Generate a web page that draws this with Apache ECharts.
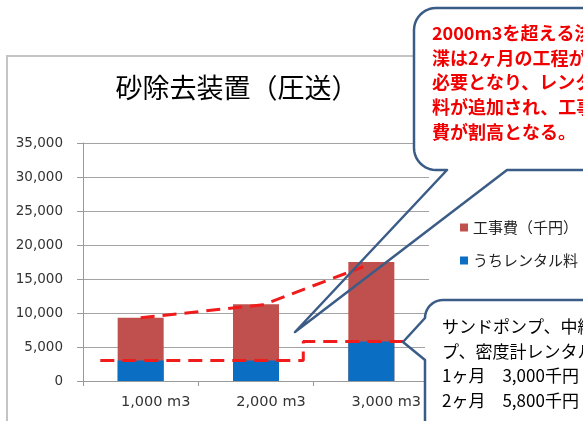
<!DOCTYPE html>
<html>
<head>
<meta charset="utf-8">
<script src="https://cdn.jsdelivr.net/npm/echarts@6/dist/echarts.min.js"></script>
<style>
  html, body { margin: 0; padding: 0; background: #fff; }
  #chart { width: 583px; height: 421px; }
</style>
</head>
<body>
<div id="chart"></div>
<script>
// Volumes and costs (thousand yen)
const categories = ['1,000 m3', '2,000 m3', '3,000 m3'];
const totalCost = [9300, 11300, 17500];   // 工事費（千円）
const rentalCost = [3000, 3000, 5800];    // うちレンタル料
const yMin = 0, yMax = 35000, yStep = 5000;

// Hand-drawn guide lines, in [category position, value]
const costTrend = [[0.5, 9300], [1.56, 11200], [2.43, 16800]];
const rentalStep = [[0.15, 3000], [1.91, 3000], [1.91, 5800], [2.78, 5800]];

const titleText = '砂除去装置（圧送）';
const noteTop = [
  '2000m3を超える浚',
  '渫は2ヶ月の工程が',
  '必要となり、レンタル',
  '料が追加され、工事',
  '費が割高となる。'
];
const fmt = v => v.toLocaleString('en-US');
const noteBottom = [
  'サンドポンプ、中継ポン',
  'プ、密度計レンタル料',
  '1ヶ月　' + fmt(rentalCost[0]) + '千円',
  '2ヶ月　' + fmt(rentalCost[2]) + '千円'
];

const JP = '"Noto Sans CJK JP", "Noto Sans", sans-serif';
const NUM = '"DejaVu Sans", sans-serif';
const calloutBorder = '#3b5c86';

const chart = echarts.init(document.getElementById('chart'), null, { renderer: 'canvas' });

// sample a circular arc (angles in degrees, screen coordinates)
function arc(cx, cy, r, a0, a1, n) {
  const pts = [];
  for (let i = 0; i <= n; i++) {
    const a = (a0 + (a1 - a0) * i / n) * Math.PI / 180;
    pts.push([cx + r * Math.cos(a), cy + r * Math.sin(a)]);
  }
  return pts;
}

function textLines(lines, x, y0, lh, font, color) {
  return lines.map((t, i) => ({
    type: 'text', z: 110, silent: true,
    style: { text: t, x: x, y: y0 + i * lh, font: font, fill: color, verticalAlign: 'middle', align: 'left' }
  }));
}

// callout outlines with their pointers
const topOutline = [[436, 8], [660, 8], [660, 170], [507, 170], [295, 332], [447, 170]]
  .concat(arc(436, 148, 22, 90, 180, 10))
  .concat(arc(436, 30, 22, 180, 270, 10));
const bottomOutline = [[443, 300], [660, 300], [660, 470], [425, 470], [425, 360], [403, 342]]
  .concat(arc(443, 318, 18, 180, 270, 10));

const graphics = [
  // outer chart frame
  { type: 'rect', z: 1, silent: true,
    shape: { x: 7, y: 56, width: 700, height: 500 },
    style: { fill: 'none', stroke: '#c4c4c4', lineWidth: 2 } },
  // upper callout
  { type: 'rect', z: 100, silent: true,
    shape: { x: 414, y: 8, width: 240, height: 162, r: 22 },
    style: { fill: '#fff' } },
  { type: 'polygon', z: 101, silent: true,
    shape: { points: topOutline },
    style: { fill: 'none', stroke: calloutBorder, lineWidth: 2.5, lineJoin: 'round' } },
  // lower callout
  { type: 'rect', z: 100, silent: true,
    shape: { x: 425, y: 300, width: 240, height: 160, r: 18 },
    style: { fill: '#fff' } },
  { type: 'polygon', z: 101, silent: true,
    shape: { points: bottomOutline },
    style: { fill: 'none', stroke: calloutBorder, lineWidth: 2.5, lineJoin: 'round' } }
].concat(
  textLines(noteTop, 432, 33, 24.7, 'bold 18px ' + JP, '#f00000'),
  textLines(noteBottom, 442, 327, 24.5, '17px ' + JP, '#000')
);

chart.setOption({
  animation: false,
  backgroundColor: '#fff',
  title: {
    text: titleText,
    left: 232, top: 69, textAlign: 'center',
    textStyle: { fontFamily: JP, fontSize: 27, fontWeight: 'normal', color: '#000' }
  },
  legend: {
    orient: 'vertical',
    left: 455, top: 215,
    itemWidth: 8, itemHeight: 8, itemGap: 18,
    icon: 'rect',
    data: ['工事費（千円）', 'うちレンタル料'],
    textStyle: { fontFamily: JP, fontSize: 15, color: '#222' },
    z: 120
  },
  grid: { left: 83, right: 154, top: 143, bottom: 40, containLabel: false, outerBoundsMode: 'none' },
  xAxis: [
    {
      type: 'category',
      data: categories,
      axisLine: { lineStyle: { color: '#9a9a9a', width: 1 } },
      axisTick: { show: true, length: 5, lineStyle: { color: '#9a9a9a' } },
      axisLabel: { margin: 14, padding: [0, 0, 0, 30], fontFamily: NUM, fontSize: 14.5, color: '#333' }
    },
    { type: 'value', min: 0, max: 3, show: false }
  ],
  yAxis: {
    type: 'value',
    min: yMin, max: yMax, interval: yStep,
    axisLine: { show: true, lineStyle: { color: '#9a9a9a', width: 1 } },
    axisTick: { show: true, length: 6, lineStyle: { color: '#9a9a9a' } },
    axisLabel: { margin: 20, fontFamily: NUM, fontSize: 13.5, color: '#333', formatter: v => fmt(v) },
    splitLine: { lineStyle: { color: '#a3a3a3', width: 1 } }
  },
  series: [
    {
      name: '工事費（千円）', type: 'bar', data: totalCost,
      barWidth: 46, barGap: '-100%',
      itemStyle: { color: '#c0504d' }
    },
    {
      name: 'うちレンタル料', type: 'bar', data: rentalCost,
      barWidth: 46, barGap: '-100%',
      itemStyle: { color: '#0a6fc2' }
    },
    {
      name: 'cost-trend', type: 'line', xAxisIndex: 1, data: costTrend,
      symbol: 'none', z: 5,
      lineStyle: { color: '#f01c1c', width: 3, type: [14, 8] }
    },
    {
      name: 'rental-step', type: 'line', xAxisIndex: 1, data: rentalStep,
      symbol: 'none', z: 5,
      lineStyle: { color: '#f01c1c', width: 3, type: [14, 8] }
    }
  ],
  graphic: graphics
});
</script>
</body>
</html>
